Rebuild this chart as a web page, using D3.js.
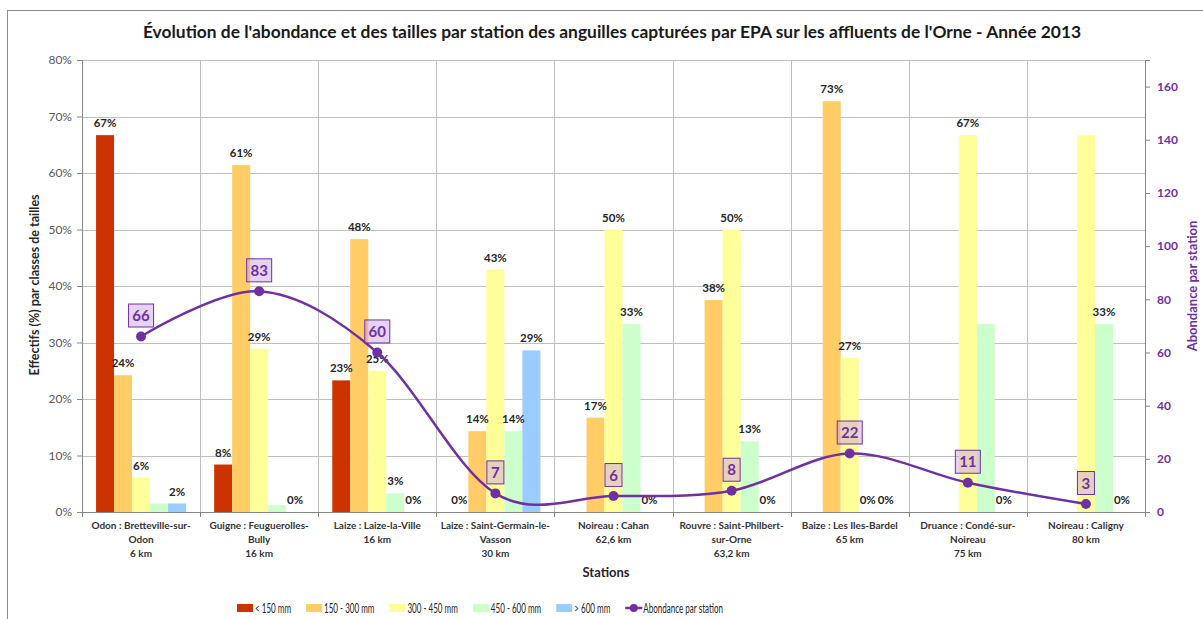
<!DOCTYPE html>
<html>
<head>
<meta charset="utf-8">
<script src="https://cdn.jsdelivr.net/npm/d3@7"></script>
<style>
  body { margin: 0; background: #fff; }
  svg { display: block; font-family: Lato, "Open Sans", sans-serif; }
</style>
</head>
<body>
<svg id="chart" width="1203" height="619"></svg>
<script>
// Stations (river : place / distance), one entry per line of the label
const stations = [
  ["Odon : Bretteville-sur-", "Odon", "6 km"],
  ["Guigne : Feuguerolles-", "Bully", "16 km"],
  ["Laize : Laize-la-Ville", "16 km"],
  ["Laize : Saint-Germain-le-", "Vasson", "30 km"],
  ["Noireau : Cahan", "62,6 km"],
  ["Rouvre : Saint-Philbert-", "sur-Orne", "63,2 km"],
  ["Baize : Les Iles-Bardel", "65 km"],
  ["Druance : Condé-sur-", "Noireau", "75 km"],
  ["Noireau : Caligny", "80 km"]
];

const sizeClasses = ["< 150 mm", "150 - 300 mm", "300 - 450 mm", "450 - 600 mm", "> 600 mm"];

// % of eels per size class, by station
const under150 = [66.7, 8.4, 23.3, 0, 0, 0, 0, 0, 0];
const from150to300 = [24.2, 61.4, 48.3, 14.3, 16.7, 37.5, 72.7, 0, 0];
const from300to450 = [6.1, 28.9, 25.0, 42.9, 50.0, 50.0, 27.3, 66.7, 66.7];
const from450to600 = [1.5, 1.2, 3.3, 14.3, 33.3, 12.5, 0, 33.3, 33.3];
const over600 = [1.5, 0, 0, 28.6, 0, 0, 0, 0, 0];

// number of eels caught per station
const abundance = [66, 83, 60, 7, 6, 8, 22, 11, 3];

// which bar labels appear in the original (per station, per size class)
const labelShown = [
  [1, 1, 1, 0, 1],
  [1, 1, 1, 0, 1],
  [1, 1, 1, 1, 1],
  [1, 1, 1, 1, 1],
  [0, 1, 1, 1, 1],
  [0, 1, 1, 1, 1],
  [0, 1, 1, 1, 1],
  [0, 0, 1, 0, 1],
  [0, 0, 0, 1, 1]
];

const leftTicks = [0, 10, 20, 30, 40, 50, 60, 70, 80];
const rightTicks = [0, 20, 40, 60, 80, 100, 120, 140, 160];

const series = [under150, from150to300, from300to450, from450to600, over600];
const colors = ["#cc3300", "#ffcc66", "#ffff99", "#ccffcc", "#99ccff"];
const purple = "#7030a0";

const width = 1203, height = 619;
const margin = { top: 60, right: 58, bottom: 107, left: 82 };
const plotW = width - margin.left - margin.right;
const plotH = height - margin.top - margin.bottom;

const svg = d3.select("#chart");

// outer chart frame
svg.append("rect")
  .attr("x", 7.5).attr("y", 10.5)
  .attr("width", width).attr("height", height)
  .attr("fill", "none").attr("stroke", "#8c8c8c");

svg.append("text")
  .attr("x", 612).attr("y", 38)
  .attr("text-anchor", "middle")
  .attr("font-size", 17.4).attr("font-weight", "bold")
  .attr("fill", "#1a1a1a")
  .text("Évolution de l'abondance et des tailles par station des anguilles capturées par EPA sur les affluents de l'Orne - Année 2013");

const g = svg.append("g").attr("transform", `translate(${margin.left},${margin.top})`);

const x0 = d3.scaleBand().domain(d3.range(stations.length)).range([0, plotW]);
const x1 = d3.scaleBand().domain(d3.range(series.length)).range([0, x0.bandwidth()]).paddingOuter(0.78);
const y = d3.scaleLinear().domain([0, 80]).range([plotH, 0]);
const y2 = d3.scaleLinear().domain([0, 170]).range([plotH, 0]);

// gridlines
g.append("g").selectAll("line")
  .data(leftTicks.filter(d => d > 0))
  .join("line")
  .attr("x1", 0).attr("x2", plotW)
  .attr("y1", d => Math.round(y(d)) + 0.5).attr("y2", d => Math.round(y(d)) + 0.5)
  .attr("stroke", "#bfbfbf");

g.append("g").selectAll("line")
  .data(d3.range(1, stations.length + 1))
  .join("line")
  .attr("x1", d => Math.round(x0.step() * d) + 0.5).attr("x2", d => Math.round(x0.step() * d) + 0.5)
  .attr("y1", 0).attr("y2", plotH)
  .attr("stroke", "#bfbfbf");

// bars
const stationG = g.selectAll(".station")
  .data(stations)
  .join("g")
  .attr("transform", (d, i) => `translate(${x0(i)},0)`);

stationG.selectAll("rect")
  .data((d, i) => series.map((s, k) => ({ k, v: s[i] })))
  .join("rect")
  .attr("x", d => x1(d.k))
  .attr("width", x1.bandwidth())
  .attr("y", d => y(d.v))
  .attr("height", d => plotH - y(d.v))
  .attr("fill", d => colors[d.k]);

stationG.selectAll("text.val")
  .data((d, i) => series.map((s, k) => ({ k, v: s[i], show: labelShown[i][k] })).filter(d => d.show))
  .join("text")
  .attr("class", "val")
  .attr("x", d => x1(d.k) + x1.bandwidth() / 2)
  .attr("y", d => y(d.v) - 8)
  .attr("text-anchor", "middle")
  .attr("font-size", 11.5).attr("font-weight", "bold")
  .attr("fill", "#262626")
  .text(d => d3.format(".0f")(d.v) + "%");

// axes
const yAxis = g.append("g")
  .call(d3.axisLeft(y).tickValues(leftTicks).tickFormat(d => d + "%").tickSize(5).tickPadding(5));
yAxis.select(".domain").attr("stroke", "#868686");
yAxis.selectAll(".tick line").attr("stroke", "#868686");
yAxis.selectAll(".tick text").attr("font-size", 12).attr("fill", "#595959").attr("font-family", "Lato, sans-serif");

const y2Axis = g.append("g")
  .attr("transform", `translate(${plotW},0)`)
  .call(d3.axisRight(y2).tickValues(rightTicks).tickSize(5).tickPadding(7));
y2Axis.select(".domain").attr("stroke", "#868686");
y2Axis.selectAll(".tick line").attr("stroke", "#868686");
y2Axis.selectAll(".tick text").attr("font-size", 12).attr("font-weight", "bold").attr("fill", purple).attr("font-family", "Lato, sans-serif");

g.append("line")
  .attr("x1", 0).attr("x2", plotW).attr("y1", plotH + 0.5).attr("y2", plotH + 0.5)
  .attr("stroke", "#868686");
g.append("g").selectAll("line")
  .data(d3.range(0, stations.length + 1))
  .join("line")
  .attr("x1", d => Math.round(x0.step() * d) + 0.5).attr("x2", d => Math.round(x0.step() * d) + 0.5)
  .attr("y1", plotH).attr("y2", plotH + 5)
  .attr("stroke", "#868686");

// station labels
const xLabels = g.append("g").selectAll("text")
  .data(stations)
  .join("text")
  .attr("text-anchor", "middle")
  .attr("font-size", 10).attr("font-weight", "bold")
  .attr("fill", "#333");
xLabels.selectAll("tspan")
  .data((d, i) => d.map(line => ({ line, i })))
  .join("tspan")
  .attr("x", d => x0(d.i) + x0.bandwidth() / 2)
  .attr("y", (d, j) => plotH + 17 + j * 14)
  .text(d => d.line);

svg.append("text")
  .attr("x", 606).attr("y", 577)
  .attr("text-anchor", "middle")
  .attr("font-size", 13).attr("font-weight", "bold").attr("fill", "#262626")
  .text("Stations");

svg.append("text")
  .attr("transform", "translate(39,285) rotate(-90)")
  .attr("text-anchor", "middle")
  .attr("font-size", 12.5).attr("font-weight", "bold").attr("fill", "#262626")
  .text("Effectifs (%) par classes de tailles");

svg.append("text")
  .attr("transform", "translate(1197,286) rotate(-90)")
  .attr("text-anchor", "middle")
  .attr("font-size", 13).attr("font-weight", "bold").attr("fill", purple)
  .text("Abondance par station");

// abundance line
const cx = i => x0(i) + x0.bandwidth() / 2;
const line = d3.line()
  .x((d, i) => cx(i))
  .y(d => y2(d))
  .curve(d3.curveCardinal.tension(0));

g.append("path")
  .datum(abundance)
  .attr("d", line)
  .attr("fill", "none")
  .attr("stroke", purple)
  .attr("stroke-width", 2.5);

g.selectAll("circle.pt")
  .data(abundance)
  .join("circle")
  .attr("class", "pt")
  .attr("cx", (d, i) => cx(i))
  .attr("cy", d => y2(d))
  .attr("r", 5)
  .attr("fill", purple);

const tags = g.selectAll("g.tag")
  .data(abundance)
  .join("g")
  .attr("class", "tag")
  .attr("transform", (d, i) => `translate(${cx(i)},${y2(d) - 21})`);
tags.append("rect")
  .attr("x", d => d >= 10 ? -12.5 : -8.5)
  .attr("width", d => d >= 10 ? 25 : 17)
  .attr("y", -11.5).attr("height", 23)
  .attr("fill", "#c79be6").attr("fill-opacity", 0.45)
  .attr("stroke", purple).attr("stroke-width", 1);
tags.append("text")
  .attr("text-anchor", "middle")
  .attr("y", 5.5)
  .attr("font-size", 15).attr("font-weight", "bold")
  .attr("fill", purple)
  .text(d => d);

// legend
const legend = svg.append("g").attr("transform", "translate(237,608)");
const legendItems = sizeClasses.map((name, k) => ({ name, color: colors[k], type: "bar" }))
  .concat([{ name: "Abondance par station", color: purple, type: "line" }]);
const squeeze = 0.62;
let lx = 0;
legendItems.forEach(item => {
  const it = legend.append("g").attr("transform", `translate(${lx},0)`);
  if (item.type === "bar") {
    it.append("rect").attr("x", 0).attr("y", -4).attr("width", 16).attr("height", 8).attr("fill", item.color);
  } else {
    it.append("line").attr("x1", 0).attr("x2", 17).attr("y1", 0).attr("y2", 0).attr("stroke", item.color).attr("stroke-width", 2.5);
    it.append("circle").attr("cx", 8.5).attr("cy", 0).attr("r", 4).attr("fill", item.color);
  }
  const t = it.append("text")
    .attr("transform", `translate(18,4.5) scale(${squeeze},1)`)
    .attr("font-size", 13).attr("fill", "#262626")
    .text(item.name);
  lx += 18 + t.node().getComputedTextLength() * squeeze + 15;
});
</script>
</body>
</html>
